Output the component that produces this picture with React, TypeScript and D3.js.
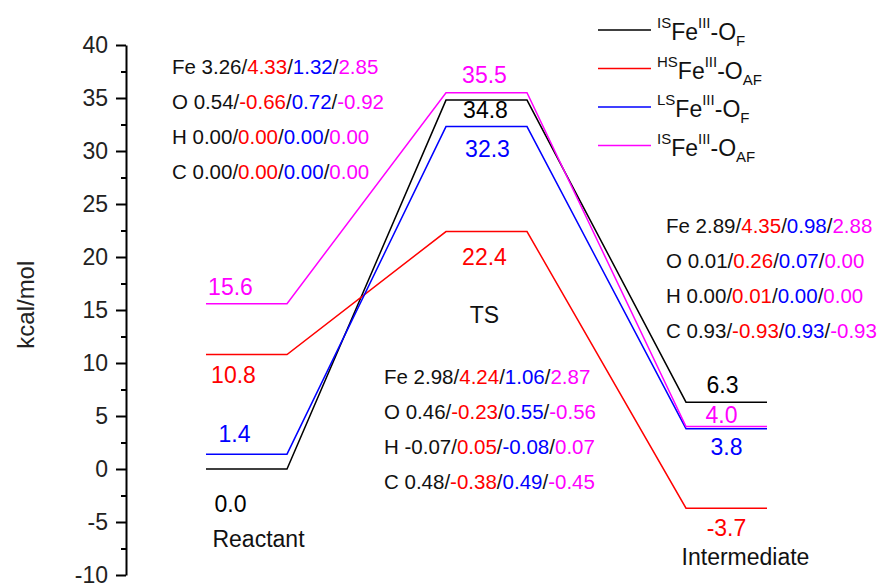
import React, { useEffect, useRef } from "react";
import * as d3 from "d3";

// energy profile (kcal/mol) per stage
const stages = ["Reactant", "TS", "Intermediate"];
const seriesIS_F = [0.0, 34.8, 6.3];
const seriesHS_AF = [10.8, 22.4, -3.7];
const seriesLS_F = [1.4, 32.3, 3.8];
const seriesIS_AF = [15.6, 35.5, 4.0];

// legend: [spin superscript, subscript]
const legendSpin = ["IS", "HS", "LS", "IS"];
const legendSub = ["F", "AF", "F", "AF"];

// spin density blocks (atom, IS_F, HS_AF, LS_F, IS_AF)
const spinReactant = [
  ["Fe", "3.26", "4.33", "1.32", "2.85"],
  ["O", "0.54", "-0.66", "0.72", "-0.92"],
  ["H", "0.00", "0.00", "0.00", "0.00"],
  ["C", "0.00", "0.00", "0.00", "0.00"],
];
const spinTS = [
  ["Fe", "2.98", "4.24", "1.06", "2.87"],
  ["O", "0.46", "-0.23", "0.55", "-0.56"],
  ["H", "-0.07", "0.05", "-0.08", "0.07"],
  ["C", "0.48", "-0.38", "0.49", "-0.45"],
];
const spinInt = [
  ["Fe", "2.89", "4.35", "0.98", "2.88"],
  ["O", "0.01", "0.26", "0.07", "0.00"],
  ["H", "0.00", "0.01", "0.00", "0.00"],
  ["C", "0.93", "-0.93", "0.93", "-0.93"],
];

const yTicks = [-10, -5, 0, 5, 10, 15, 20, 25, 30, 35, 40];

const colors = ["#000000", "#ff0000", "#0000ff", "#ff00ff"];
const series = [seriesIS_F, seriesHS_AF, seriesLS_F, seriesIS_AF];

// label offsets [dx, dy] relative to level centre / level y, per series per stage
const labelOffsets = [
  [[-16, 43], [-1, 18], [-4, -9]],
  [[-13, 28], [-2, 33], [0, 28]],
  [[-12, -12], [1, 30], [0, 26]],
  [[-16, -9], [-2, -10], [-5, -4]],
];

const W = 879;
const H = 583;
const FONT = "'Liberation Sans', Arial, sans-serif";

export default function App() {
  const axisRef = useRef<SVGGElement>(null);

  const y = d3.scaleLinear().domain([-10, 40]).range([575, 45]);
  const x = d3.scaleLinear().domain([0, 2]).range([246.5, 726.5]);
  const half = 40.5;

  useEffect(() => {
    const g = d3.select(axisRef.current);
    g.selectAll("*").remove();
    const minor = d3.range(-7.5, 40, 5);
    g.append("g")
      .call(d3.axisLeft(y).tickValues(minor).tickSize(5).tickFormat(() => "").tickSizeOuter(0))
      .call((s) => s.select(".domain").remove())
      .selectAll("line")
      .attr("stroke-width", 2);
    const major = g
      .append("g")
      .call(
        d3
          .axisLeft(y)
          .tickValues(yTicks)
          .tickSize(10)
          .tickPadding(8)
          .tickSizeOuter(0)
          .tickFormat((d) => String(d))
      );
    major.select(".domain").attr("stroke-width", 2);
    major.selectAll("line").attr("stroke-width", 2);
    major
      .selectAll("text")
      .attr("font-size", 23)
      .attr("font-family", FONT)
      .attr("fill", "#222");
  }, []);

  const pathFor = (vals: number[]) => {
    const pts: [number, number][] = [];
    vals.forEach((v, i) => {
      pts.push([x(i) - half, y(v)]);
      pts.push([x(i) + half, y(v)]);
    });
    return d3.line()(pts) || "";
  };

  const spinBlock = (rows: string[][], x0: number, y0: number) =>
    rows.map((r, i) => (
      <text key={i} x={x0} y={y0 + i * 35} fontSize={20.5} fontFamily={FONT} fill="#111">
        <tspan>{r[0] + " " + r[1]}</tspan>
        <tspan>/</tspan>
        <tspan fill={colors[1]}>{r[2]}</tspan>
        <tspan>/</tspan>
        <tspan fill={colors[2]}>{r[3]}</tspan>
        <tspan>/</tspan>
        <tspan fill={colors[3]}>{r[4]}</tspan>
      </text>
    ));

  return (
    <svg width={W} height={H} style={{ position: "absolute", left: 0, top: 0, background: "#fff" }}>
      <g ref={axisRef} transform="translate(126,0)" />
      <text
        transform={`translate(34,${y(15.5)}) rotate(-90)`}
        textAnchor="middle"
        fontSize={24}
        fontFamily={FONT}
        fill="#222"
      >
        kcal/mol
      </text>

      {series.map((s, i) => (
        <path key={i} d={pathFor(s)} fill="none" stroke={colors[i]} strokeWidth={1.5} />
      ))}

      {series.map((s, i) =>
        s.map((v, j) => (
          <text
            key={`${i}-${j}`}
            x={x(j) + labelOffsets[i][j][0]}
            y={y(v) + labelOffsets[i][j][1]}
            textAnchor="middle"
            fontSize={23}
            fontFamily={FONT}
            fill={colors[i]}
          >
            {v.toFixed(1)}
          </text>
        ))
      )}

      <text x={x(0) + 12} y={547} textAnchor="middle" fontSize={23} fontFamily={FONT} fill="#111">
        {stages[0]}
      </text>
      <text x={x(1) - 2} y={323} textAnchor="middle" fontSize={23} fontFamily={FONT} fill="#111">
        {stages[1]}
      </text>
      <text x={x(2) + 19} y={565} textAnchor="middle" fontSize={23} fontFamily={FONT} fill="#111">
        {stages[2]}
      </text>

      {spinBlock(spinReactant, 172, 74)}
      {spinBlock(spinTS, 384, 384)}
      {spinBlock(spinInt, 666, 233)}

      {legendSpin.map((sp, i) => {
        const ly = 30 + i * 38.5;
        return (
          <g key={i}>
            <line x1={598} x2={651} y1={ly} y2={ly} stroke={colors[i]} strokeWidth={1.5} />
            <text x={657} y={ly + 10} fontSize={23} fontFamily={FONT} fill="#111">
              <tspan fontSize={15} dy={-12}>{sp}</tspan>
              <tspan dy={12}>Fe</tspan>
              <tspan fontSize={15} dy={-12}>III</tspan>
              <tspan dy={12}>-O</tspan>
              <tspan fontSize={15} dy={6}>{legendSub[i]}</tspan>
            </text>
          </g>
        );
      })}
    </svg>
  );
}
